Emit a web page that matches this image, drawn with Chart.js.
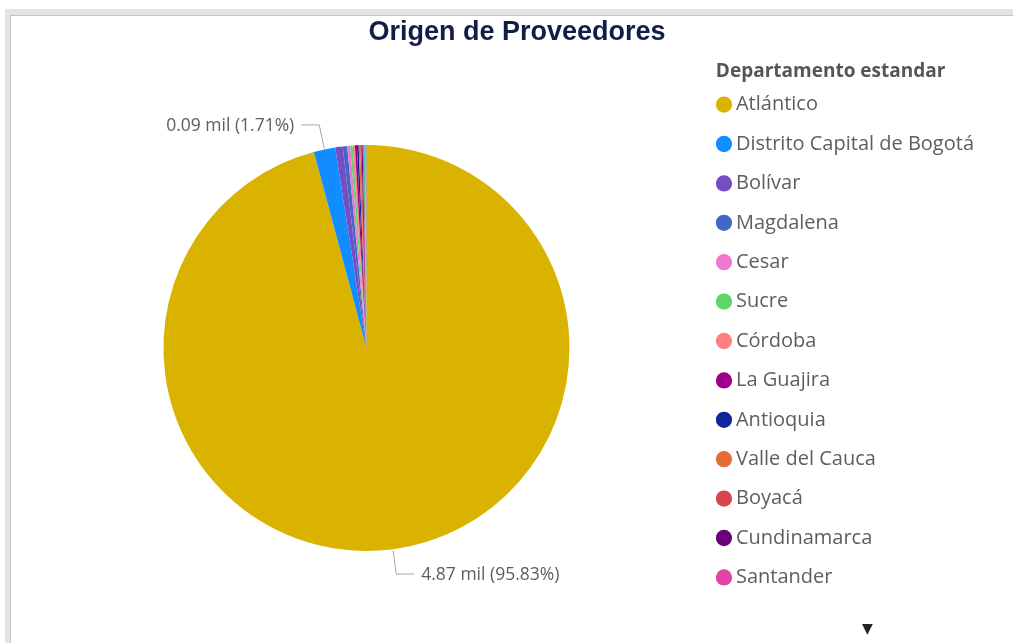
<!DOCTYPE html>
<html>
<head>
<meta charset="utf-8">
<script src="https://cdn.jsdelivr.net/npm/chart.js@4.4.1/dist/chart.umd.min.js"></script>
<style>
  html, body { margin: 0; padding: 0; background: #fff; }
  body { width: 1013px; height: 643px; position: relative; overflow: hidden; }
  #frame { position: absolute; left: 5px; top: 9px; right: 0; bottom: 0; background: #E9E3DF; }
  #panel { position: absolute; left: 10px; top: 15px; width: 1002px; height: 627px;
           background: #fff; border-left: 1px solid #C4C4C4; border-top: 1px solid #C4C4C4; }
  #more { position: absolute; left: 862px; top: 620px; font: 14px "DejaVu Sans", sans-serif; color: #252423; }
</style>
</head>
<body>
<div id="frame"></div>
<div id="panel"><canvas id="pieChart" width="1002" height="627"></canvas></div>
<span id="more">▼</span>
<script>
// Proveedores por departamento
const titulo = 'Origen de Proveedores';
const departamentos = [
    'Atlántico', 'Distrito Capital de Bogotá', 'Bolívar', 'Magdalena', 'Cesar', 'Sucre',
    'Córdoba', 'La Guajira', 'Antioquia', 'Valle del Cauca', 'Boyacá', 'Cundinamarca',
    'Santander', 'Risaralda', 'Caldas', 'Norte de Santander', 'Tolima', 'Huila', 'Meta', 'Quindío'
];
const proveedores = [4870, 87, 30, 18, 12, 10, 9, 8, 7, 6, 5, 5, 4, 3, 2, 2, 1, 1, 1, 1];
const colores = [
    '#D9B300', '#118DFF', '#744EC2', '#4367C4', '#F076D4', '#5BD667',
    '#FF8080', '#9A0089', '#12239E', '#E66C37', '#D64550', '#6B007B',
    '#E044A7', '#1AAB40', '#15C6F4', '#FFA058', '#BE5DC9', '#197278', '#4092FF', '#A43B76'
];
const legendVisible = 13;

const total = proveedores.reduce((a, b) => a + b, 0);

// title centred on the whole visual (the legend box would shift the built-in one)
const visualTitle = {
    id: 'visualTitle',
    afterDraw(chart) {
        const ctx = chart.ctx;
        ctx.save();
        ctx.font = 'bold 27px "Liberation Sans", Arial, sans-serif';
        ctx.fillStyle = '#111E4A';
        ctx.textAlign = 'center';
        ctx.textBaseline = 'middle';
        ctx.fillText(titulo, 506, 17);
        ctx.restore();
    }
};

// leader lines with "x mil (y%)" labels for the big slices
const outLabels = {
    id: 'outLabels',
    afterDatasetsDraw(chart) {
        const ctx = chart.ctx;
        const meta = chart.getDatasetMeta(0);
        ctx.save();
        ctx.font = '17.5px "Open Sans", sans-serif';
        ctx.textBaseline = 'middle';
        meta.data.forEach((arc, i) => {
            const pct = proveedores[i] / total * 100;
            if (pct < 1.5) return;
            const p = arc.getProps(['x', 'y', 'startAngle', 'endAngle', 'outerRadius']);
            const mid = (p.startAngle + p.endAngle) / 2;
            const cos = Math.cos(mid), sin = Math.sin(mid);
            const x0 = p.x + cos * (p.outerRadius + 1), y0 = p.y + sin * (p.outerRadius + 1);
            const x1 = p.x + cos * (p.outerRadius + 25), y1 = p.y + sin * (p.outerRadius + 25);
            const dir = cos >= 0 ? 1 : -1;
            const x2 = x1 + dir * 18;
            ctx.strokeStyle = '#A6A6A6';
            ctx.lineWidth = 1;
            ctx.beginPath();
            ctx.moveTo(x0, y0);
            ctx.lineTo(x1, y1);
            ctx.lineTo(x2, y1);
            ctx.stroke();
            const txt = (proveedores[i] / 1000).toFixed(2) + ' mil (' + pct.toFixed(2) + '%)';
            ctx.fillStyle = '#605E5C';
            ctx.textAlign = dir > 0 ? 'left' : 'right';
            ctx.fillText(txt, x2 + dir * 7, y1 + 1);
        });
        ctx.restore();
    }
};

const ctx = document.getElementById('pieChart').getContext('2d');
const pieChart = new Chart(ctx, {
    type: 'pie',
    data: {
        labels: departamentos,
        datasets: [{
            data: proveedores,
            backgroundColor: colores,
            borderWidth: 0
        }]
    },
    options: {
        responsive: false,
        animation: false,
        radius: 203,
        layout: { padding: { left: 6, right: 29, top: 40, bottom: 3 } },
        plugins: {
            title: { display: false },
            legend: {
                position: 'right',
                align: 'start',
                title: {
                    display: true,
                    position: 'start',
                    text: 'Departamento estandar',
                    color: '#555555',
                    font: { family: '"Open Sans", sans-serif', size: 19, weight: 'bold' },
                    padding: { top: 6.5, bottom: 3.2 }
                },
                labels: {
                    usePointStyle: true,
                    pointStyle: 'circle',
                    boxWidth: 4,
                    boxHeight: 11.5,
                    padding: 6.1,
                    color: '#605E5C',
                    font: { family: '"Open Sans", sans-serif', size: 20, lineHeight: 1.665 },
                    generateLabels(chart) {
                        const items = Chart.overrides.pie.plugins.legend.labels.generateLabels(chart);
                        return items.slice(0, legendVisible).map(it => Object.assign(it, { text: [it.text], lineWidth: 0 }));
                    }
                }
            },
            tooltip: { enabled: false }
        }
    },
    plugins: [outLabels, visualTitle]
});
</script>
</body>
</html>
